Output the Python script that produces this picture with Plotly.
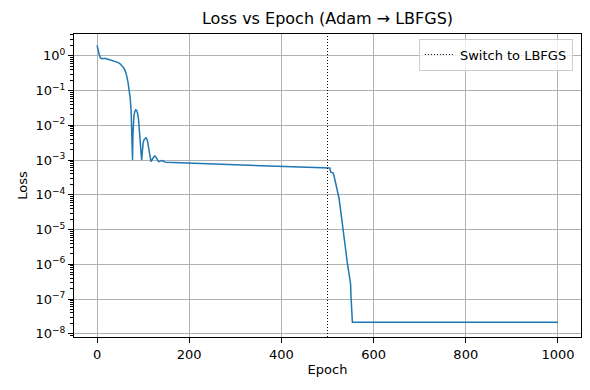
import plotly.graph_objects as go

# loss curve (Adam for epochs 0-500, LBFGS after)
epochs = [0, 2, 4, 6, 8, 10, 13, 16, 19, 22, 26, 30, 35, 40, 45, 50, 54, 58, 61, 64,
          67, 70, 72, 74, 75, 76, 77, 78, 79, 80, 82, 84, 86, 88, 90, 92, 94, 95, 96, 97,
          98, 99, 100, 102, 104, 106, 108, 110, 112, 114, 116, 117, 118, 120, 122, 124,
          126, 128, 130, 132, 134, 136, 138, 140, 142, 144, 147, 150, 250, 350, 450, 500,
          505, 507, 512, 514, 517, 520, 525, 528, 531, 533, 535, 537, 539, 541, 543, 545,
          547, 549, 550, 551, 552, 553, 554, 1000]
loss = [2.0, 1.5, 1.15, 0.95, 0.86, 0.83, 0.84, 0.86, 0.84, 0.81, 0.78, 0.75, 0.72, 0.69,
        0.65, 0.59, 0.53, 0.45, 0.37, 0.28, 0.18, 0.10, 0.06, 0.025, 0.012, 0.004, 0.001,
        0.006, 0.013, 0.019, 0.025, 0.028, 0.027, 0.022, 0.015, 0.008, 0.0035, 0.002,
        0.0013, 0.001, 0.0016, 0.0024, 0.0031, 0.0039, 0.0043, 0.0044, 0.0041, 0.0033,
        0.0022, 0.0013, 0.00095, 0.0009, 0.00095, 0.00108, 0.00122, 0.0013, 0.00131,
        0.00124, 0.0011, 0.00096, 0.0009, 0.00092, 0.00096, 0.00098, 0.00096, 0.00092,
        0.00089, 0.00087, 0.00079, 0.00070, 0.00063, 0.00060,
        5.9e-4, 4.5e-4, 4.3e-4, 3.6e-4, 2.4e-4, 1.6e-4, 8e-5, 4e-5, 1.8e-5, 1e-5, 6e-6,
        4e-6, 2.8e-6, 1.8e-6, 1.1e-6, 7e-7, 4.5e-7, 3.2e-7, 2.8e-7, 1.2e-7, 5e-8, 2.2e-8,
        2.15e-8, 2.15e-8]

switch_epoch = 500

x_ticks = [0, 200, 400, 600, 800, 1000]
y_ticks = [1, 1e-1, 1e-2, 1e-3, 1e-4, 1e-5, 1e-6, 1e-7, 1e-8]
y_ticklabels = ["10<sup>0</sup>", "10<sup>\u22121</sup>", "10<sup>\u22122</sup>",
                "10<sup>\u22123</sup>", "10<sup>\u22124</sup>", "10<sup>\u22125</sup>",
                "10<sup>\u22126</sup>", "10<sup>\u22127</sup>", "10<sup>\u22128</sup>"]
# minor log ticks 2..9 inside each decade
y_minor = [m * 10.0 ** e for e in range(-9, 1) for m in range(2, 10)]

font = "DejaVu Sans"
dotted = "1px,2px"

# the page body has an 8px default margin, so the figure is 8px smaller
W, H = 582, 382

fig = go.Figure()
fig.add_trace(go.Scatter(x=epochs, y=loss, mode="lines", showlegend=False,
                         line=dict(color="#1f77b4", width=1.5)))
# legend-only entry for the switch marker
fig.add_trace(go.Scatter(x=[None], y=[None], mode="lines", name="Switch to LBFGS",
                         line=dict(color="black", width=1, dash=dotted)))
fig.add_vline(x=switch_epoch, line=dict(color="black", width=1, dash=dotted))

fig.update_layout(
    width=W, height=H,
    margin=dict(l=66, r=9, t=26, b=53),
    paper_bgcolor="white", plot_bgcolor="white",
    font=dict(family=font, size=13, color="black"),
    title=dict(text="Loss vs Epoch (Adam \u2192 LBFGS)", x=0.5, xref="paper",
               y=1 - 10 / H, yref="container", yanchor="middle",
               font=dict(size=16)),
    legend=dict(x=0.984, y=0.985, xanchor="right", yanchor="top",
                bgcolor="rgba(255,255,255,0.8)", bordercolor="#cccccc", borderwidth=1,
                font=dict(size=13)),
)
fig.update_xaxes(
    range=[-50, 1050], tickvals=x_ticks, showgrid=True, gridcolor="#b0b0b0", gridwidth=1,
    zeroline=False, showline=True, linecolor="black", linewidth=1, mirror=True,
    ticks="outside", ticklen=5, tickcolor="black", automargin=False,
    tickfont=dict(size=13),
    title=dict(text="Epoch", standoff=4, font=dict(size=13)),
)
fig.update_yaxes(
    type="log", range=[-8.09, 0.63], tickvals=y_ticks, ticktext=y_ticklabels,
    showgrid=True, gridcolor="#b0b0b0", gridwidth=1,
    zeroline=False, showline=True, linecolor="black", linewidth=1, mirror=True,
    ticks="outside", ticklen=5, tickcolor="black", automargin=False,
    tickfont=dict(size=13),
    minor=dict(tickmode="array", tickvals=y_minor, ticks="outside", ticklen=3,
               tickcolor="black", showgrid=False),
    title=dict(text="Loss", standoff=4, font=dict(size=13)),
)

fig.write_html("out.html")
